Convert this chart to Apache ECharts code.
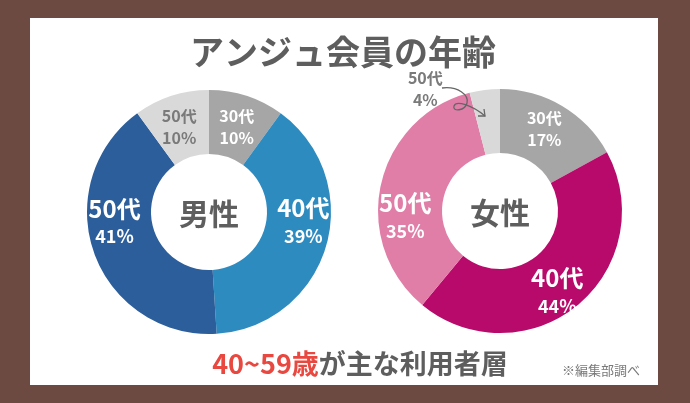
<!DOCTYPE html>
<html>
<head>
<meta charset="utf-8">
<style>
  html, body { margin: 0; padding: 0; background: #6d4a41; }
  #chart { width: 690px; height: 403px; }
</style>
<script src="https://cdn.jsdelivr.net/npm/echarts@6/dist/echarts.min.js"></script>
</head>
<body>
<div id="chart"></div>
<script>
// 年代ラベル（4つ目も元画像どおり「50代」表記）
const ageLabels = ['30代', '40代', '50代', '50代'];
const maleValues = [10, 39, 41, 10];
const femaleValues = [17, 44, 35, 4];

const maleColors = ['#a6a6a6', '#2e8bc0', '#2c5e9b', '#d9d9d9'];
const femaleColors = ['#a6a6a6', '#b80a6b', '#e07ea8', '#d9d9d9'];

// ラベル微調整（見た目用）
const maleOffsets = [[-1, 3], [5, -16], [-7, -21], [-1, 3]];
const femaleOffsets = [[-3, -2], [-2, 9], [-4, 26], [-63, -30]];

const FONT = '"Noto Sans CJK JP", "Noto Sans", sans-serif';
const GRAY = '#5e5e5e';

function buildData(values, colors, offsets) {
  return values.map((v, i) => {
    const light = colors[i] === '#d9d9d9';
    const big = v >= 20;
    return {
      name: ageLabels[i],
      value: v,
      itemStyle: { color: colors[i] },
      label: {
        offset: offsets[i],
        color: light ? '#7a7a7a' : '#fff',
        formatter: big ? '{bn|{b}}\n{bp|{c}%}' : '{sn|{b}}\n{sp|{c}%}'
      }
    };
  });
}

function pieSeries(center, values, colors, offsets) {
  return {
    type: 'pie',
    center: center,
    radius: [58, 122],
    startAngle: 90,
    clockwise: true,
    silent: true,
    label: {
      show: true,
      position: 'inside',
      fontFamily: FONT,
      fontWeight: 'bold',
      rich: {
        bn: { fontSize: 24, fontWeight: 'bold', lineHeight: 28, fontFamily: FONT },
        bp: { fontSize: 18, fontWeight: 'bold', lineHeight: 28, fontFamily: FONT },
        sn: { fontSize: 16, fontWeight: 'bold', lineHeight: 22, fontFamily: FONT },
        sp: { fontSize: 16, fontWeight: 'bold', lineHeight: 22, fontFamily: FONT }
      }
    },
    labelLine: { show: false },
    itemStyle: { borderWidth: 0 },
    data: buildData(values, colors, offsets)
  };
}

const arrowStyle = { fill: null, stroke: '#666', lineWidth: 1.3 };

const chart = echarts.init(document.getElementById('chart'));
chart.setOption({
  animation: false,
  backgroundColor: '#6d4a41',
  graphic: [
    { type: 'rect', z: -10, shape: { x: 30, y: 18, width: 628, height: 367 }, style: { fill: '#fff' } },
    { type: 'text', x: 343, y: 52, style: { text: 'アンジュ会員の年齢', font: 'bold 34px ' + FONT, fill: GRAY, align: 'center', verticalAlign: 'middle' } },
    { type: 'text', x: 209, y: 214, z: 10, style: { text: '男性', font: 'bold 30px ' + FONT, fill: GRAY, align: 'center', verticalAlign: 'middle' } },
    { type: 'text', x: 500, y: 213, z: 10, style: { text: '女性', font: 'bold 30px ' + FONT, fill: GRAY, align: 'center', verticalAlign: 'middle' } },
    {
      type: 'text', x: 360, y: 364,
      style: {
        text: '{r|40~59歳}{g|が主な利用者層}',
        align: 'center', verticalAlign: 'middle',
        rich: {
          r: { fontSize: 27, fontWeight: 'bold', fill: '#e8483f', fontFamily: FONT },
          g: { fontSize: 27, fontWeight: 'bold', fill: GRAY, fontFamily: FONT }
        }
      }
    },
    { type: 'text', x: 601, y: 370, style: { text: '※編集部調べ', font: '13px ' + FONT, fill: '#7a7a7a', align: 'center', verticalAlign: 'middle' } },
    // 4%への矢印
    { type: 'bezierCurve', z: 10, shape: { x1: 442, y1: 88, cpx1: 458, cpy1: 86, cpx2: 469, cpy2: 95, x2: 467, y2: 103 }, style: arrowStyle },
    { type: 'bezierCurve', z: 10, shape: { x1: 467, y1: 103, cpx1: 465, cpy1: 111, cpx2: 452, cpy2: 112, x2: 454, y2: 106 }, style: arrowStyle },
    { type: 'bezierCurve', z: 10, shape: { x1: 454, y1: 106, cpx1: 456, cpy1: 100, cpx2: 472, cpy2: 105, x2: 485, y2: 116 }, style: arrowStyle },
    { type: 'polyline', z: 10, shape: { points: [[478, 116], [485, 116], [484, 109]] }, style: arrowStyle }
  ],
  series: [
    pieSeries([209, 212], maleValues, maleColors, maleOffsets),
    pieSeries([500, 211], femaleValues, femaleColors, femaleOffsets)
  ]
});
</script>
</body>
</html>
